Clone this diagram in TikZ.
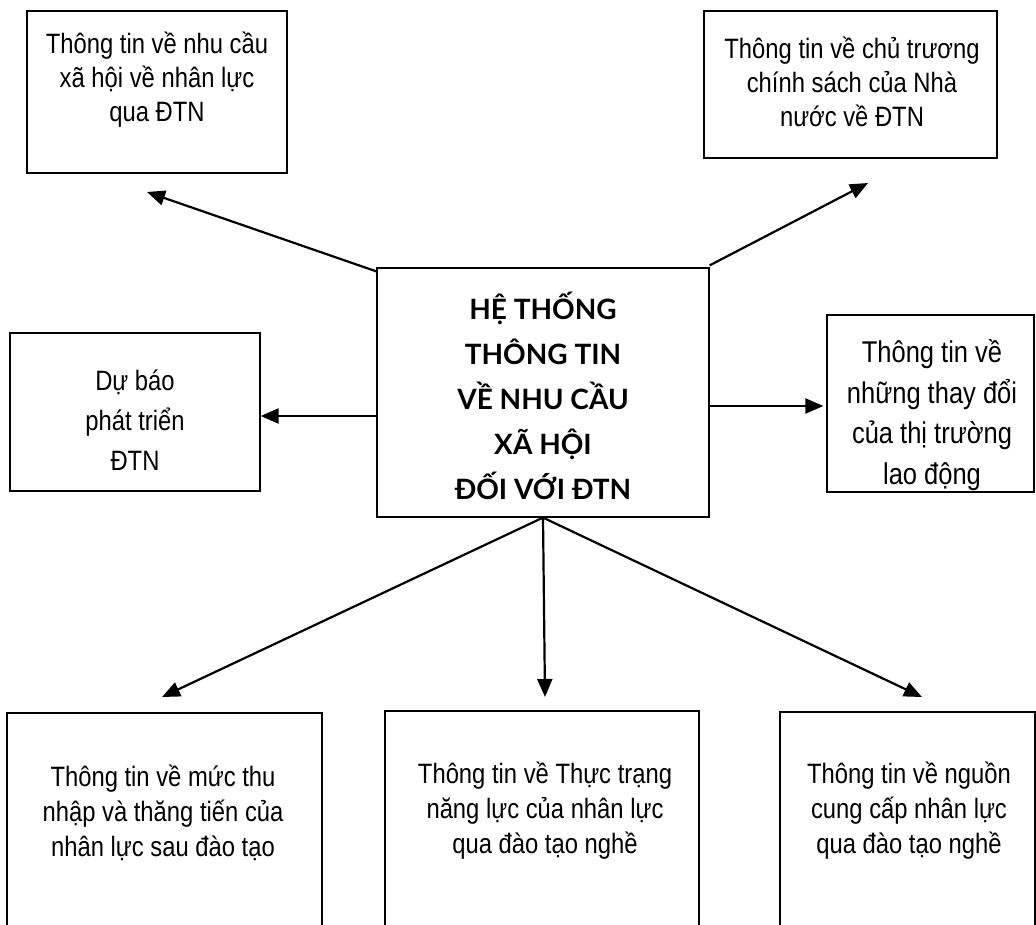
\documentclass[tikz,border=0pt]{standalone}
\usepackage{fontspec}
\setmainfont{Liberation Sans}[FakeStretch=0.85]
\newfontfamily\headfont{Lato}[BoldFont={Lato Bold}]
\usetikzlibrary{arrows.meta}
\begin{document}
\begin{tikzpicture}[x=1pt,y=-1pt,
  box/.style={draw,line width=1.2pt,inner sep=0pt,minimum width=#1},
  txt/.style={align=center,inner sep=0pt,font=\fontsize{28}{34}\selectfont},
  arr/.style={line width=2.2pt,-{Triangle[length=18pt,width=15pt]}}]
\clip (0,0) rectangle (1036,924);
\fill[white] (0,0) rectangle (1036,924);
% boxes
\node[box=260pt,minimum height=162pt] (tl) at (157,92) {};
\node[box=293pt,minimum height=147pt] (tr) at (850.5,84.5) {};
\node[box=332pt,minimum height=249pt] (c) at (543,392.5) {};
\node[box=250pt,minimum height=158pt] (ml) at (135,412) {};
\node[box=207pt,minimum height=177pt] (mr) at (930.5,403.5) {};
\node[box=315pt,minimum height=260pt] (bl) at (164.5,843) {};
\node[box=314pt,minimum height=260pt] (bm) at (542,841) {};
\node[box=255pt,minimum height=260pt] (br) at (907.5,842) {};
% texts
\node[txt] (tlT) at (157,80) {Thông tin về nhu cầu\\xã hội về nhân lực\\qua ĐTN};
\node[txt] (trT) at (852,82) {Thông tin về chủ trương\\chính sách của Nhà\\nước về ĐTN};
\node[txt,font=\fontsize{28}{40}\selectfont] (mlT) at (135,420) {Dự báo\\phát triển\\ĐTN};
\node[txt,font=\fontsize{30}{40.5}\selectfont] (mrT) at (932,415) {Thông tin về\\những thay đổi\\của thị trường\\lao động};
\node[txt,font=\headfont\bfseries\fontsize{28}{45}\selectfont] (cT) at (543,396) {HỆ THỐNG\\THÔNG TIN\\VỀ NHU CẦU\\XÃ HỘI\\ĐỐI VỚI ĐTN};
\node[txt,font=\fontsize{28}{35}\selectfont] (blT) at (163,813) {Thông tin về mức thu\\nhập và thăng tiến của\\nhân lực sau đào tạo};
\node[txt,font=\fontsize{28}{35}\selectfont] (bmT) at (545,811) {Thông tin về Thực trạng\\năng lực của nhân lực\\qua đào tạo nghề};
\node[txt,font=\fontsize{28}{35}\selectfont] (brT) at (909,811) {Thông tin về nguồn\\cung cấp nhân lực\\qua đào tạo nghề};
% arrow tips
\coordinate (tlTip) at (147,192);
\coordinate (trTip) at (868,183);
\coordinate (blTip) at (162,697);
\coordinate (bmTip) at (545,697);
\coordinate (brTip) at (922,697);
% connectors
\draw[arr] ([yshift=-4pt]c.north west) -- (tlTip);
\draw[arr] ([yshift=2pt]c.north east) -- (trTip);
\draw[arr] (c.west |- 0,416) -- (ml.east |- 0,416);
\draw[arr] (c.east |- 0,406) -- ([xshift=-3pt]mr.west |- 0,406);
\draw[arr] (c.south) -- (blTip);
\draw[arr] (c.south) -- (bmTip);
\draw[arr] (c.south) -- (brTip);
\end{tikzpicture}
\end{document}
